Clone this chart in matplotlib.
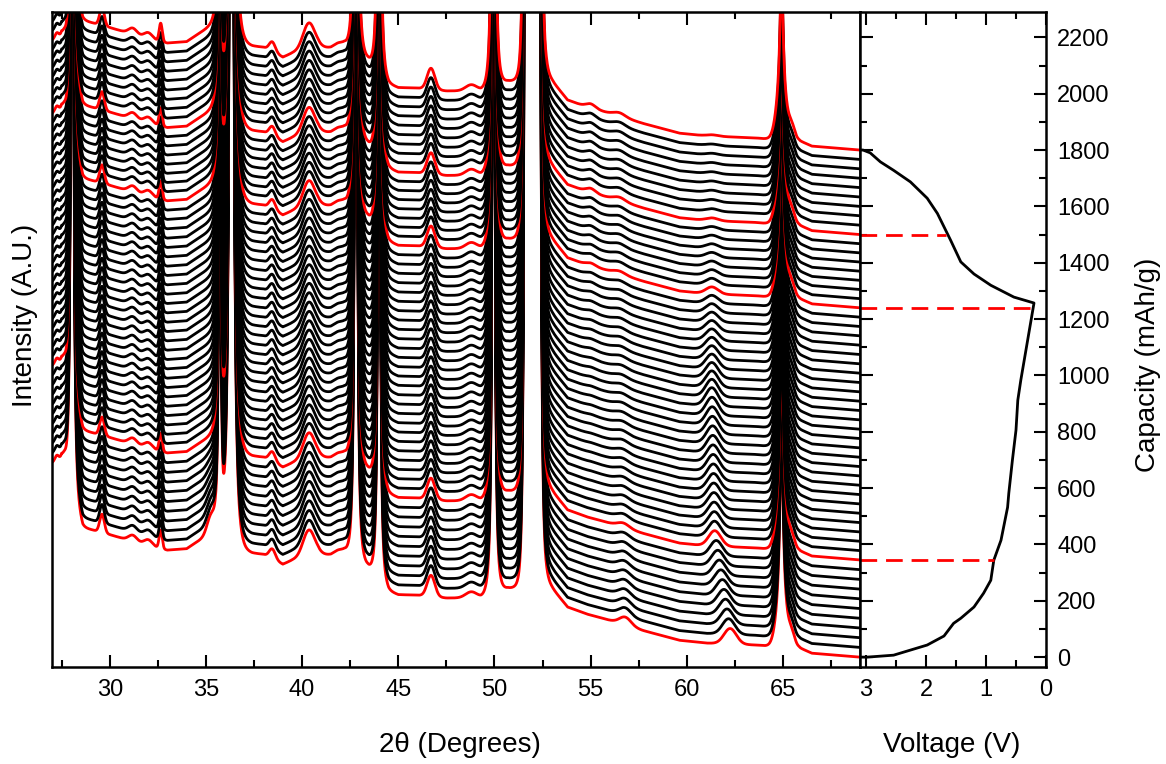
import numpy as np
import matplotlib
matplotlib.use("Agg")
import matplotlib.pyplot as plt

plt.rcParams['font.family'] = ['Liberation Sans', 'DejaVu Sans']

# ---------------- data ----------------
two_theta_lim = (27.0, 69.0)
voltage_lim = (3.1, 0.0)
capacity_lim = (-35, 2290)

# capacities at which the patterns were taken (right-edge offsets)
segment_caps = [0, 345, 1240, 1500, 1800]
segment_scans = [10, 27, 8, 9]
red_scans = [0, 10, 37, 45, 54]

# smooth background of each pattern (deg, A.U. in capacity units)
bg_deg = [27.0, 27.5, 28.0, 28.6, 29.2, 30.0, 31.0, 32.0, 33.0, 34.0, 35.0, 35.5,
          35.9, 37.4, 38.0, 39.0, 39.5, 40.8, 41.5, 42.2, 43.4, 44.5, 45.0, 46.0, 47.5,
          49.3, 50.7, 51.1, 52.7, 53.0, 53.8, 54.8, 56.2, 57.7, 59.6, 61.0, 63.6,
          64.3, 65.8, 66.5, 69.0]
bg_val = [690, 700, 560, 460, 450, 435, 415, 395, 380, 385, 430, 455,
          400, 370, 365, 330, 345, 370, 360, 370, 320, 235, 222, 220, 210,
          210, 245, 245, 265, 245, 178, 153, 127, 95, 60, 50, 43,
          38, 35, 14, 0]

# strong (off-scale) reflections: position, tail strength, core half width, tail reach
big_pos = [28.05, 35.72, 36.33, 42.80, 44.00, 49.95, 51.60, 52.32]
big_tail = [14.0, 5.0, 40.0, 13.0, 9.0, 12.0, 8.0, 16.0]
big_core = [0.015, 0.010, 0.050, 0.012, 0.012, 0.012, 0.012, 0.015]
big_reach = [0.5, 0.5, 0.6, 0.5, 0.5, 0.5, 0.5, 0.5]

# plateau between the two strong reflections near 52 deg
plateau_pos = [51.96]
plateau_h = [6000]
plateau_w = [0.19]

# weak reflections, constant through the cycle
weak_pos = [27.25, 27.65, 29.60, 31.20, 32.00, 32.65, 38.45, 40.35, 41.90, 46.70, 48.80, 65.45]
weak_h = [20, 30, 65, 22, 22, 65, 35, 90, 15, 75, 22, 45]
weak_w = [0.10, 0.10, 0.12, 0.22, 0.22, 0.08, 0.16, 0.30, 0.30, 0.20, 0.30, 0.16]

# reflection at ~65 deg (on-scale)
p65_pos = 64.92
p65_h = [620, 600, 560, 520, 480, 440]
p65_w = 0.10
p65_base_h = 150
p65_base_w = 0.25

# evolving weak reflections at key scans
key_scans = [0, 10, 25, 37, 45, 54]
evo_pos = [[62.25, 61.45, 61.30, 61.30, 61.30, 61.30],
           [56.80, 56.70, 56.60, 56.50, 56.50, 56.50],
           [35.25, 35.25, 35.25, 35.25, 35.25, 35.25],
           [55.00, 55.00, 55.00, 55.00, 55.00, 55.00]]
evo_h = [[55, 55, 65, 25, 10, 5],
         [28, 15, 10, 10, 12, 12],
         [55, 0, 0, 0, 0, 0],
         [0, 0, 5, 10, 15, 15]]
evo_w = [0.32, 0.30, 0.20, 0.25]

# voltage profile (V, mAh/g)
volt = [3.08, 2.98, 2.54, 2.26, 1.98, 1.70, 1.54, 1.42, 1.20, 1.04, 0.92, 0.87,
        0.75, 0.64, 0.62, 0.56, 0.50, 0.47, 0.42, 0.20,
        0.535, 0.92, 1.20, 1.42, 1.59, 1.81, 1.98, 2.26, 2.54, 2.76, 2.93, 3.05, 3.10]
cap = [0, 0, 7, 25, 43, 75, 120, 138, 178, 227, 273, 344,
       415, 532, 582, 699, 806, 912, 983, 1257,
       1278, 1320, 1360, 1403, 1480, 1575, 1629, 1687, 1728, 1758, 1790, 1800, 1800]

# marked states
mark_cap = [345, 1240, 1500]
mark_volt = [0.87, 0.21, 1.66]

# ---------------- build patterns ----------------
scan_caps = np.concatenate([np.linspace(segment_caps[k], segment_caps[k + 1],
                                        segment_scans[k] + 1)[:-1]
                            for k in range(len(segment_scans))] + [[segment_caps[-1]]])
n_scans = len(scan_caps)
x = np.linspace(two_theta_lim[0], two_theta_lim[1], 6000)


def lor_env(x, p, tail, core, env=0.5):
    d = x - p
    return tail / (d ** 2 + core ** 2) * np.exp(-(d / env) ** 2)


def gauss(x, p, h, w):
    return h * np.exp(-0.5 * ((x - p) / w) ** 2)


base = np.interp(x, bg_deg, bg_val)
for p, t, c, r in zip(big_pos, big_tail, big_core, big_reach):
    base = base + lor_env(x, p, t, c, r)
for p, h, w in zip(plateau_pos, plateau_h, plateau_w):
    base = base + gauss(x, p, h, w)
for p, h, w in zip(weak_pos, weak_h, weak_w):
    base = base + gauss(x, p, h, w)
base = base + gauss(x, p65_pos, p65_base_h, p65_base_w)

patterns = []
for i in range(n_scans):
    y = base.copy()
    for k in range(len(evo_w)):
        p = np.interp(i, key_scans, evo_pos[k])
        h = np.interp(i, key_scans, evo_h[k])
        y = y + gauss(x, p, h, evo_w[k])
    h65 = np.interp(i, key_scans, p65_h)
    y = y + h65 / (1 + ((x - p65_pos) / p65_w) ** 2) * np.exp(-((x - p65_pos) / 0.6) ** 2)
    y = y - y[-1]
    patterns.append(y + scan_caps[i])

# ---------------- figure ----------------
W, H = 1166, 764
fig = plt.figure(figsize=(W / 100, H / 100), dpi=100)
ax_l, ax_r = 52, 860
ax_rr = 1046
ax_t, ax_b = 12, 667
axL = fig.add_axes([ax_l / W, 1 - ax_b / H, (ax_r - ax_l) / W, (ax_b - ax_t) / H])
axR = fig.add_axes([ax_r / W, 1 - ax_b / H, (ax_rr - ax_r) / W, (ax_b - ax_t) / H])

lw = 2.0
for i in range(n_scans):
    col = '#ff0000' if i in red_scans else 'black'
    axL.plot(x, patterns[i], color=col, lw=lw, solid_joinstyle='round')

axL.set_xlim(*two_theta_lim)
axL.set_ylim(*capacity_lim)
axL.set_xticks(np.arange(30, 66, 5))
axL.set_xticks(np.arange(27.5, 69, 2.5), minor=True)
axL.set_yticks([])
axL.tick_params(axis='x', which='both', direction='in', top=True, bottom=True,
                labelsize=17, pad=9, width=1.5)
axL.tick_params(axis='x', which='major', length=9)
axL.tick_params(axis='x', which='minor', length=5)

axR.plot(volt, cap, color='black', lw=lw)
for c, v in zip(mark_cap, mark_volt):
    axR.plot([voltage_lim[0], v], [c, c], color='#ff0000', lw=2.0, dashes=(6, 3.2))
axR.set_xlim(*voltage_lim)
axR.set_ylim(*capacity_lim)
axR.set_xticks([3, 2, 1, 0])
axR.set_xticks(np.arange(0.5, 3.1, 1.0), minor=True)
axR.set_yticks(np.arange(0, 2201, 200))
axR.set_yticks(np.arange(100, 2290, 200), minor=True)
axR.yaxis.tick_right()
axR.tick_params(axis='both', which='both', direction='in', top=True, bottom=True,
                left=True, right=True, labelsize=17, width=1.5)
axR.tick_params(axis='x', which='both', pad=9)
axR.tick_params(axis='y', which='both', pad=8)
axR.tick_params(which='major', length=9)
axR.tick_params(which='minor', length=5)

for a in (axL, axR):
    for s in a.spines.values():
        s.set_linewidth(1.8)

fig.text(460 / W, 1 - 745 / H, '2θ (Degrees)', ha='center', va='center', fontsize=20)
fig.text(952 / W, 1 - 745 / H, 'Voltage (V)', ha='center', va='center', fontsize=20)
fig.text(25 / W, 1 - 315 / H, 'Intensity (A.U.)', ha='center', va='center',
         fontsize=20, rotation=90)
fig.text(1148 / W, 1 - 365 / H, 'Capacity (mAh/g)', ha='center', va='center',
         fontsize=20, rotation=90)

fig.savefig('out.png', dpi=100)
